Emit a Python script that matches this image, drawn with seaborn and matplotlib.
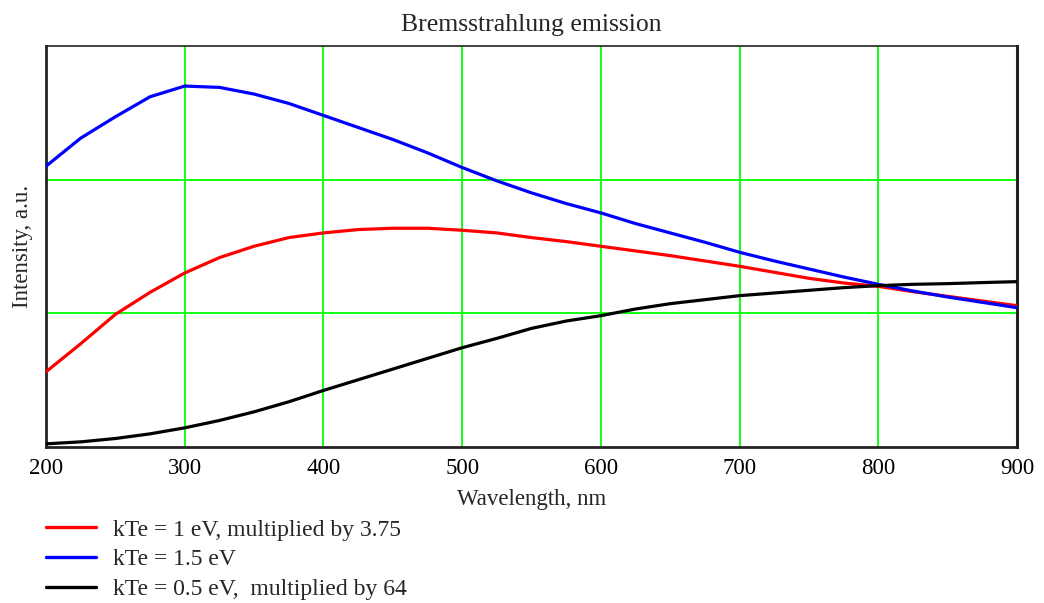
import numpy as np
import pandas as pd
import matplotlib
matplotlib.use("Agg")
import matplotlib.pyplot as plt
import seaborn as sns

# Wavelength grid (nm) and relative intensities of the three spectra
wavelength = [200, 225, 250, 275, 300, 325, 350, 375, 400, 425, 450, 475, 500,
              525, 550, 575, 600, 625, 650, 675, 700, 725, 750, 775, 800, 825,
              850, 875, 900]
kte_1_0 = [0.56, 0.77, 0.99, 1.155, 1.30, 1.415, 1.50, 1.565, 1.60, 1.625,
           1.635, 1.635, 1.62, 1.60, 1.565, 1.535, 1.50, 1.465, 1.43, 1.39,
           1.35, 1.305, 1.26, 1.225, 1.20, 1.16, 1.125, 1.09, 1.055]
kte_1_5 = [2.10, 2.31, 2.47, 2.62, 2.70, 2.69, 2.64, 2.57, 2.48, 2.39, 2.30,
           2.20, 2.09, 1.99, 1.90, 1.82, 1.75, 1.67, 1.60, 1.53, 1.455, 1.39,
           1.33, 1.27, 1.215, 1.165, 1.12, 1.08, 1.04]
kte_0_5 = [0.02, 0.035, 0.06, 0.095, 0.14, 0.195, 0.26, 0.335, 0.42, 0.50,
           0.58, 0.66, 0.74, 0.81, 0.885, 0.94, 0.98, 1.03, 1.07, 1.10, 1.13,
           1.15, 1.17, 1.19, 1.205, 1.215, 1.22, 1.228, 1.235]

series_labels = ["kTe = 1 eV, multiplied by 3.75",
                 "kTe = 1.5 eV",
                 "kTe = 0.5 eV,  multiplied by 64"]
series_colors = ["#ff0000", "#0000ff", "#000000"]
x_ticks = [200, 300, 400, 500, 600, 700, 800, 900]

df = pd.concat([
    pd.DataFrame({"wavelength": wavelength, "intensity": vals, "series": lab})
    for vals, lab in zip([kte_1_0, kte_1_5, kte_0_5], series_labels)
])

sns.set_theme(style="white")
plt.rcParams["font.family"] = ["Liberation Serif", "DejaVu Serif"]

fig = plt.figure(figsize=(10.44, 6.03), dpi=100)
ax = fig.add_axes([0.0441, 0.2595, 0.9300, 0.6642])

# grid first so curves sit on top
for xv in x_ticks[1:-1]:
    ax.axvline(xv, color="#00ff00", lw=1.3, zorder=1)
for yv in [1, 2]:
    ax.axhline(yv, color="#00ff00", lw=1.3, zorder=1)

sns.lineplot(data=df, x="wavelength", y="intensity", hue="series",
             palette=dict(zip(series_labels, series_colors)),
             hue_order=series_labels, linewidth=2.3, ax=ax, legend=False,
             zorder=3, sort=False)

ax.set_xlim(200, 900)
ax.set_ylim(0, 3)
ax.set_xticks(x_ticks)
ax.set_xticklabels([str(t) for t in x_ticks], fontsize=16.5)
ax.set_yticks([])
ax.tick_params(axis="x", length=0, pad=8, colors="#000000")
ax.set_xlabel("Wavelength, nm", fontsize=16.5)
ax.xaxis.set_label_coords(0.5, -0.105)
ax.set_ylabel("Intensity, a.u.", fontsize=16.5)
ax.yaxis.set_label_coords(-0.013, 0.5)
ax.set_title("Bremsstrahlung emission", fontsize=18.5, pad=11)

for side, lw in [("left", 2.0), ("bottom", 2.0), ("top", 1.2), ("right", 2.2)]:
    ax.spines[side].set_visible(True)
    ax.spines[side].set_color("#222222")
    ax.spines[side].set_linewidth(lw)

handles = [plt.Line2D([], [], color=c, lw=2.4) for c in series_colors]
fig.legend(handles, series_labels, loc="upper left",
           bbox_to_anchor=(0.044, 0.139), frameon=False, fontsize=17,
           handlelength=2.1, handletextpad=0.72, labelspacing=0.34,
           borderaxespad=0, borderpad=0)

fig.savefig("out.png", dpi=100)
